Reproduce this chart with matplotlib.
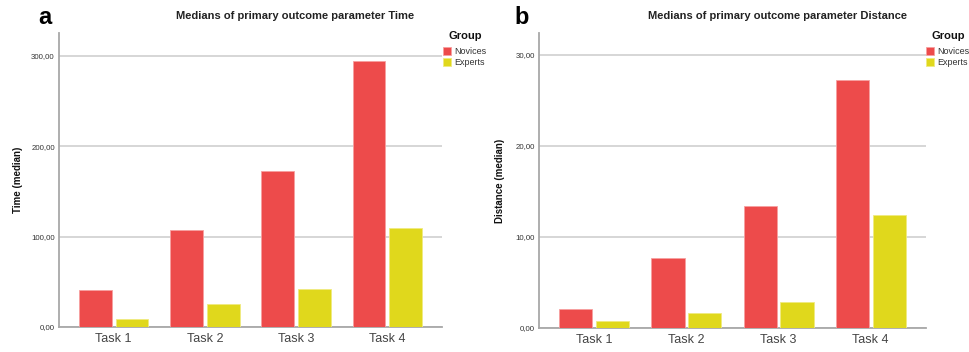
import numpy as np
import matplotlib
matplotlib.use("Agg")
import matplotlib.pyplot as plt
from matplotlib.ticker import FuncFormatter

plt.rcParams['font.family'] = ['Liberation Sans', 'DejaVu Sans']

# Data
tasks = ["Task 1", "Task 2", "Task 3", "Task 4"]
groups = ["Novices", "Experts"]
time_novices = [40.5, 107.5, 172, 294]
time_experts = [8.5, 25.7, 42, 109.5]
dist_novices = [2.13, 7.74, 13.37, 27.25]
dist_experts = [0.77, 1.65, 2.82, 12.42]

red = '#ED4B4B'
yellow = '#E0D81C'

W, H = 969, 352
fig = plt.figure(figsize=(W / 100, H / 100), dpi=100)


def px_axes(l, t, r, b):
    return fig.add_axes([l / W, 1 - b / H, (r - l) / W, (b - t) / H])


def comma_fmt(v, pos):
    return f"{v:.2f}".replace(".", ",")


def panel(ax, nov, exp, ymax, yticks, ylabel, title, letter, title_x, letter_x, label_x, leg_x):
    x = np.arange(len(tasks))
    b1 = ax.bar(x - 0.2, nov, width=0.36, color=red, edgecolor='#F7A0A0', linewidth=0.6, zorder=3)
    b2 = ax.bar(x + 0.2, exp, width=0.36, color=yellow, edgecolor='#F0EA80', linewidth=0.6, zorder=3)
    ax.set_xlim(-0.6, 3.6)
    ax.set_ylim(0, ymax)
    ax.set_yticks(yticks)
    ax.yaxis.set_major_formatter(FuncFormatter(comma_fmt))
    ax.set_xticks(x)
    ax.set_xticklabels(tasks)
    ax.tick_params(axis='y', length=0, pad=3, labelsize=5.7, labelcolor='#333333')
    ax.tick_params(axis='x', length=0, pad=4, labelsize=9, labelcolor='#444444')
    ax.grid(axis='y', color='#D3D3D3', linewidth=1.3, zorder=0)
    for s in ['top', 'right']:
        ax.spines[s].set_visible(False)
    for s in ['left', 'bottom']:
        ax.spines[s].set_color('#A8A8A8')
        ax.spines[s].set_linewidth(1.3)
    ax.set_ylabel(ylabel, fontsize=7, fontweight='bold', color='#111111')
    ax.yaxis.set_label_coords(label_x, 0.5)
    fig.text(title_x / W, 1 - 16 / H, title, ha='center', va='center',
             fontsize=8, fontweight='bold', color='#222222')
    fig.text(letter_x / W, 1 - 17 / H, letter,
             ha='center', va='center', fontsize=17, fontweight='bold')
    # legend title placed separately to match spacing
    fig.text((leg_x + 22) / W, 1 - 36 / H, 'Group', ha='center', va='center',
             fontsize=8, fontweight='bold', color='#111111')
    leg = ax.legend([b1, b2], groups, loc='upper left',
                    bbox_to_anchor=(leg_x / W, 1 - 47 / H), bbox_transform=fig.transFigure,
                    frameon=False, fontsize=6.5,
                    handlelength=0.9, handleheight=0.9, handletextpad=0.3,
                    borderpad=0, labelspacing=0.25, borderaxespad=0)
    for t in leg.get_texts():
        t.set_color('#333333')


ax1 = px_axes(59, 33, 442, 327)
panel(ax1, time_novices, time_experts, 325, [0, 100, 200, 300], "Time (median)",
      "Medians of primary outcome parameter Time", 'a', 295, 45, -0.094, 443)

ax2 = px_axes(539, 33, 926, 328)
panel(ax2, dist_novices, dist_experts, 32.4, [0, 10, 20, 30], "Distance (median)",
      "Medians of primary outcome parameter Distance", 'b', 778, 522, -0.088, 926)

fig.savefig("out.png", dpi=100)
